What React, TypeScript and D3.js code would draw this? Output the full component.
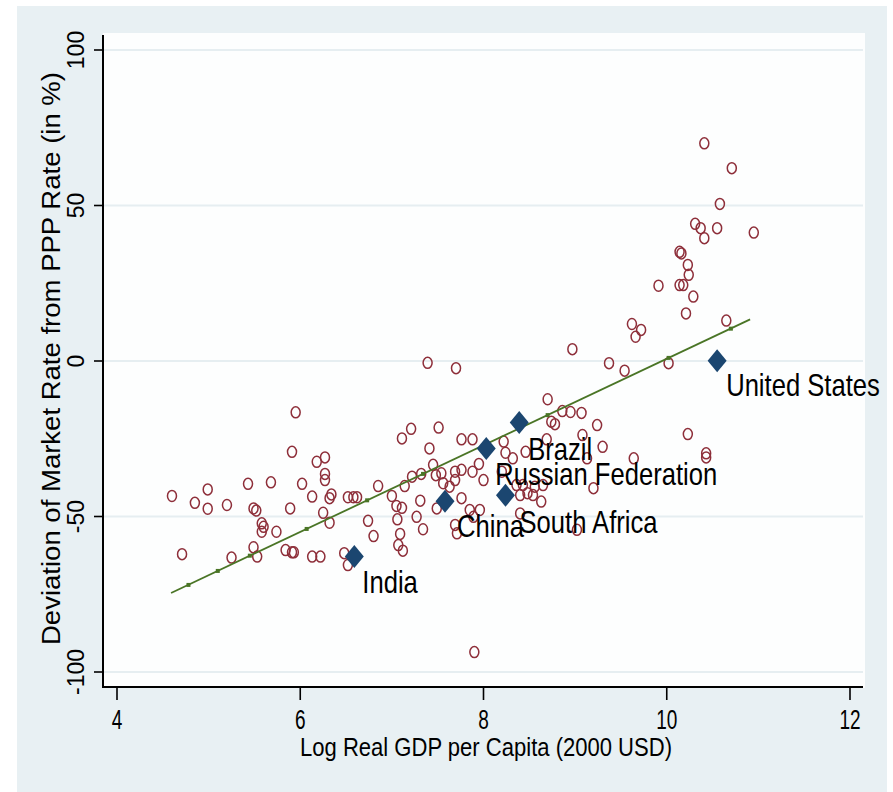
import React from "react";
import * as d3 from "d3";

// Other countries: log real GDP per capita (x) and deviation in % (y)
const otherX = [
  4.60, 4.71, 4.85, 4.99, 4.99, 5.20, 5.25, 5.43, 5.49, 5.52, 5.49, 5.53, 5.58, 5.58, 5.60, 5.68, 5.74, 5.84, 5.91, 5.93,
  5.89, 5.91, 5.95, 6.02, 6.13, 6.13, 6.22, 6.18, 6.27, 6.27, 6.27, 6.25, 6.32, 6.32, 6.34, 6.48, 6.52, 6.52, 6.58, 6.62,
  6.74, 6.80, 6.85, 7.00, 7.05, 7.11, 7.06, 7.09, 7.07, 7.12, 7.11, 7.21, 7.14, 7.22, 7.32, 7.31, 7.27, 7.34, 7.41, 7.51,
  7.45, 7.48, 7.54, 7.56, 7.49, 7.63, 7.69, 7.69, 7.76, 7.88, 7.76, 7.88, 7.95, 8.00, 7.76, 7.85, 7.96, 7.89, 7.69, 7.71,
  8.22, 8.24, 8.32, 8.46, 8.20, 8.36, 8.43, 8.56, 8.40, 8.48, 8.54, 8.63, 8.40, 8.65, 9.02, 8.70, 8.74, 8.78, 8.86, 8.95,
  9.07, 9.08, 9.24, 8.69, 9.13, 9.30, 9.20, 9.64, 10.23, 10.43, 10.43, 7.39, 7.70, 8.97, 9.37, 9.54, 10.02, 9.62, 9.72, 9.66,
  10.65, 10.21, 10.29, 9.91, 10.14, 10.18, 10.23, 10.24, 10.14, 10.16, 10.31, 10.37, 10.41, 10.55, 10.95, 10.58, 10.71, 10.41, 7.90,
];
const otherY = [
  -43.4, -62.1, -45.6, -41.3, -47.5, -46.3, -63.2, -39.5, -47.4, -48.1, -59.9, -62.9, -52.2, -54.9, -53.3, -39.0, -54.9, -60.8, -61.5, -61.5,
  -47.4, -29.2, -16.5, -39.5, -43.6, -62.9, -62.9, -32.4, -31.0, -36.3, -38.3, -48.8, -52.0, -44.1, -42.9, -61.8, -65.6, -43.8, -43.8, -43.8,
  -51.4, -56.3, -40.2, -43.4, -46.6, -47.2, -50.9, -55.6, -59.2, -61.0, -24.9, -21.8, -40.2, -37.2, -36.3, -44.9, -50.1, -54.1, -28.1, -21.4,
  -33.4, -36.7, -36.1, -39.3, -47.4, -40.4, -35.6, -38.3, -35.0, -35.6, -25.2, -25.2, -33.1, -38.3, -44.1, -47.9, -47.9, -50.1, -52.7, -55.4,
  -25.9, -29.5, -31.3, -29.2, -35.6, -39.9, -39.9, -40.4, -43.1, -42.5, -43.1, -45.2, -49.0, -39.9, -54.3, -12.3, -19.5, -20.3, -16.1, -16.4,
  -16.7, -23.8, -20.6, -25.2, -31.3, -27.6, -40.9, -31.3, -23.5, -29.7, -31.0, -0.6, -2.3, 3.8, -0.7, -3.1, -0.7, 11.9, 10.0, 7.8,
  13.0, 15.3, 20.7, 24.2, 24.4, 24.4, 30.9, 27.7, 35.1, 34.6, 44.1, 42.7, 39.5, 42.7, 41.3, 50.5, 62.0, 70.0, -93.6,
];

// Highlighted countries
const namedCountries = ["India", "China", "Russian Federation", "South Africa", "Brazil", "United States"];
const namedX = [6.59, 7.58, 8.03, 8.24, 8.39, 10.55];
const namedY = [-62.9, -45.1, -28.1, -43.2, -19.8, 0.1];

// Fitted line and its small markers
const fitX = [4.59, 10.91];
const fitY = [-74.6, 13.4];
const fitMarkX = [4.78, 5.10, 5.45, 6.07, 6.73, 7.34, 8.70, 10.02, 10.70];
const fitMarkY = [-72.0, -67.5, -62.6, -54.0, -44.8, -36.3, -17.4, 1.0, 10.4];

const xTicks = [4, 6, 8, 10, 12];
const yTicks = [-100, -50, 0, 50, 100];

const W = 893;
const H = 792;
const FONT = "'Liberation Sans', Arial, Helvetica, sans-serif";
const RED = "#8e2f3a";
const NAVY = "#1b4670";
const GREEN = "#4a7526";
const BG = "#e8f0f3";

export default function App() {
  const x = d3.scaleLinear().domain([4, 12]).range([117, 850]);
  const y = d3.scaleLinear().domain([-100, 100]).range([672, 50]);

  const plotL = 103, plotR = 865, plotT = 33, plotB = 688;

  const fitPath = d3.line<number>()
    .x((_, i) => x(fitX[i]))
    .y((_, i) => y(fitY[i]))(fitX) || "";

  const diamond = (cx: number, cy: number) => {
    const w = 9.5, h = 11.5;
    return `M${cx},${cy - h} L${cx + w},${cy} L${cx},${cy + h} L${cx - w},${cy} Z`;
  };

  const labelOffsets: [number, number][] = [
    [8, 36], [12, 36], [9, 37], [14, 38], [9, 37], [9, 35],
  ];

  return (
    <svg width={W} height={H} style={{ position: "absolute", left: 0, top: 0 }} xmlns="http://www.w3.org/2000/svg">
      <rect x={0} y={0} width={W} height={H} fill="#ffffff" />
      <rect x={17} y={6} width={870} height={H - 6} fill={BG} />
      <rect x={plotL} y={plotT} width={plotR - plotL} height={plotB - plotT} fill="#fdfefe" />

      {/* gridlines */}
      {yTicks.map((t) => (
        <line key={"g" + t} x1={plotL} x2={plotR - 2} y1={y(t)} y2={y(t)} stroke="#e6eef1" strokeWidth={2} />
      ))}

      {/* axes */}
      <line x1={plotL} x2={plotL} y1={plotT + 2} y2={plotB} stroke="#000" strokeWidth={2} />
      <line x1={plotL} x2={plotR - 2} y1={687} y2={687} stroke="#000" strokeWidth={2} />

      {yTicks.map((t) => (
        <g key={"yt" + t}>
          <line x1={94} x2={plotL} y1={y(t)} y2={y(t)} stroke="#000" strokeWidth={1.6} />
          <text
            transform={`translate(83.5,${y(t)}) rotate(-90)`}
            textAnchor="middle"
            fontFamily={FONT}
            fontSize={23}
            fill="#000"
          >
            {t}
          </text>
        </g>
      ))}

      {xTicks.map((t) => (
        <g key={"xt" + t}>
          <line x1={x(t)} x2={x(t)} y1={687} y2={700} stroke="#000" strokeWidth={1.6} />
          <text
            transform={`translate(${x(t)},729) scale(0.68,1)`}
            textAnchor="middle"
            fontFamily={FONT}
            fontSize={28}
            fill="#000"
          >
            {t}
          </text>
        </g>
      ))}

      {/* axis titles */}
      <text
        transform={`translate(60,358.5) rotate(-90)`}
        textAnchor="middle"
        fontFamily={FONT}
        fontSize={26}
        textLength={573}
        lengthAdjust="spacingAndGlyphs"
        fill="#000"
      >
        Deviation of Market Rate from PPP Rate (in %)
      </text>
      <text
        x={486}
        y={756}
        textAnchor="middle"
        fontFamily={FONT}
        fontSize={26}
        textLength={372}
        lengthAdjust="spacingAndGlyphs"
        fill="#000"
      >
        Log Real GDP per Capita (2000 USD)
      </text>

      {/* other countries */}
      {otherX.map((v, i) => (
        <ellipse
          key={"c" + i}
          cx={x(v)}
          cy={y(otherY[i])}
          rx={4.5}
          ry={5.5}
          fill="none"
          stroke={RED}
          strokeWidth={1.5}
        />
      ))}

      {/* fitted line */}
      <path d={fitPath} fill="none" stroke={GREEN} strokeWidth={1.8} />
      {fitMarkX.map((v, i) => (
        <rect key={"fm" + i} x={x(v) - 2} y={y(fitMarkY[i]) - 2} width={4} height={4} fill={GREEN} />
      ))}

      {/* highlighted countries */}
      {namedX.map((v, i) => (
        <path key={"d" + i} d={diamond(x(v), y(namedY[i]))} fill={NAVY} />
      ))}
      {namedCountries.map((n, i) => (
        <text
          key={"l" + i}
          transform={`translate(${x(namedX[i]) + labelOffsets[i][0]},${y(namedY[i]) + labelOffsets[i][1]}) scale(0.8,1)`}
          fontFamily={FONT}
          fontSize={32}
          fill="#000"
        >
          {n}
        </text>
      ))}
    </svg>
  );
}
